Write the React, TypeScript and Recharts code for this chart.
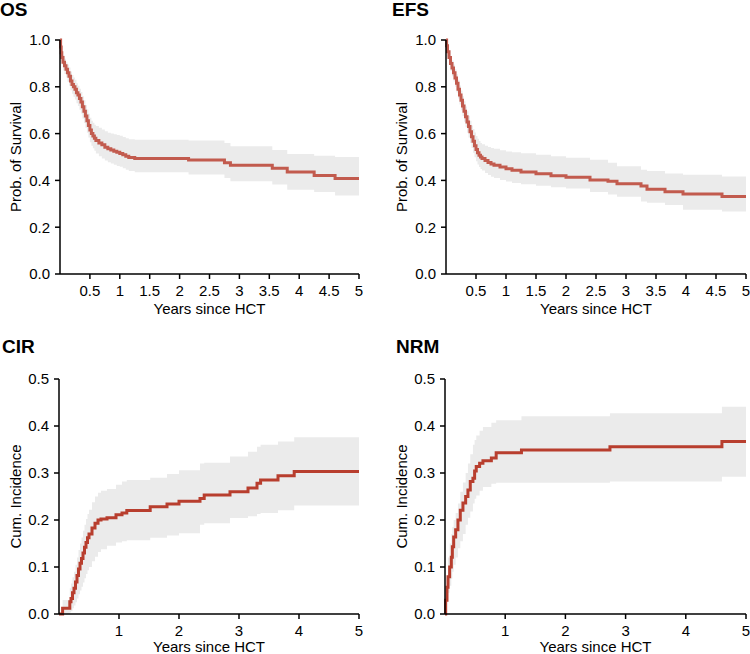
import React from 'react';
import { ComposedChart, Area, Line, XAxis, YAxis } from 'recharts';

// ---- OS ----
const osTime = [0, 0.01, 0.02, 0.03, 0.05, 0.075, 0.1, 0.125, 0.15, 0.175, 0.2, 0.225, 0.25, 0.275, 0.3, 0.325, 0.35, 0.375, 0.4, 0.425, 0.45, 0.475, 0.5, 0.525, 0.55, 0.575, 0.6, 0.65, 0.7, 0.75, 0.8, 0.85, 0.9, 0.95, 1.0, 1.05, 1.1, 1.15, 1.25, 2.15, 2.75, 2.85, 3.55, 3.8, 4.25, 4.6, 5];
const osEst = [1, 0.97, 0.945, 0.925, 0.905, 0.89, 0.875, 0.86, 0.845, 0.825, 0.81, 0.8, 0.79, 0.775, 0.765, 0.75, 0.735, 0.715, 0.695, 0.675, 0.655, 0.635, 0.615, 0.6, 0.59, 0.58, 0.57, 0.56, 0.552, 0.542, 0.535, 0.53, 0.525, 0.52, 0.515, 0.51, 0.503, 0.498, 0.494, 0.487, 0.475, 0.465, 0.452, 0.436, 0.421, 0.408, 0.408];
const osLower = [1, 0.945, 0.915, 0.895, 0.87, 0.855, 0.84, 0.822, 0.805, 0.785, 0.77, 0.758, 0.746, 0.73, 0.718, 0.702, 0.686, 0.665, 0.645, 0.625, 0.604, 0.583, 0.563, 0.548, 0.537, 0.527, 0.515, 0.503, 0.494, 0.485, 0.478, 0.472, 0.467, 0.462, 0.458, 0.452, 0.446, 0.44, 0.435, 0.425, 0.41, 0.396, 0.382, 0.36, 0.35, 0.335, 0.335];
const osUpper = [1, 0.99, 0.97, 0.955, 0.935, 0.92, 0.905, 0.895, 0.882, 0.865, 0.85, 0.84, 0.83, 0.815, 0.805, 0.792, 0.778, 0.76, 0.742, 0.722, 0.703, 0.685, 0.668, 0.655, 0.646, 0.638, 0.632, 0.625, 0.617, 0.61, 0.604, 0.6, 0.597, 0.594, 0.591, 0.586, 0.58, 0.576, 0.574, 0.57, 0.56, 0.546, 0.53, 0.513, 0.505, 0.5, 0.5];

// ---- EFS ----
const efsTime = [0, 0.01, 0.025, 0.05, 0.075, 0.1, 0.125, 0.15, 0.175, 0.2, 0.225, 0.25, 0.275, 0.3, 0.325, 0.35, 0.375, 0.4, 0.425, 0.45, 0.475, 0.5, 0.525, 0.55, 0.575, 0.6, 0.65, 0.7, 0.75, 0.8, 0.9, 1.0, 1.1, 1.25, 1.5, 1.75, 2.0, 2.4, 2.7, 2.85, 3.25, 3.35, 3.65, 3.95, 4.6, 5];
const efsEst = [1, 0.975, 0.95, 0.925, 0.9, 0.88, 0.86, 0.838, 0.815, 0.79, 0.765, 0.742, 0.718, 0.695, 0.672, 0.65, 0.63, 0.608, 0.587, 0.567, 0.548, 0.532, 0.518, 0.508, 0.5, 0.494, 0.485, 0.477, 0.47, 0.465, 0.457, 0.45, 0.443, 0.436, 0.428, 0.42, 0.413, 0.402, 0.396, 0.386, 0.376, 0.362, 0.351, 0.342, 0.331, 0.331];
const efsLower = [1, 0.955, 0.925, 0.895, 0.868, 0.845, 0.823, 0.8, 0.776, 0.75, 0.724, 0.7, 0.675, 0.651, 0.627, 0.604, 0.583, 0.56, 0.538, 0.518, 0.499, 0.482, 0.468, 0.457, 0.449, 0.442, 0.432, 0.423, 0.416, 0.41, 0.402, 0.395, 0.389, 0.384, 0.377, 0.371, 0.365, 0.35, 0.34, 0.33, 0.31, 0.305, 0.295, 0.275, 0.267, 0.267];
const efsUpper = [1, 0.99, 0.975, 0.955, 0.932, 0.912, 0.895, 0.875, 0.854, 0.83, 0.806, 0.784, 0.76, 0.738, 0.716, 0.695, 0.676, 0.655, 0.635, 0.62, 0.605, 0.59, 0.578, 0.568, 0.56, 0.555, 0.548, 0.543, 0.538, 0.535, 0.529, 0.524, 0.52, 0.516, 0.51, 0.503, 0.497, 0.488, 0.475, 0.46, 0.445, 0.44, 0.43, 0.424, 0.417, 0.417];

// ---- CIR ----
const cirTime = [0, 0.06, 0.18, 0.2, 0.225, 0.25, 0.275, 0.3, 0.325, 0.35, 0.375, 0.4, 0.425, 0.45, 0.475, 0.5, 0.55, 0.6, 0.65, 0.7, 0.8, 0.95, 1.05, 1.13, 1.52, 1.8, 2.0, 2.35, 2.42, 2.85, 3.15, 3.3, 3.36, 3.65, 3.92, 5];
const cirEst = [0, 0.012, 0.026, 0.033, 0.045, 0.055, 0.068, 0.082, 0.096, 0.108, 0.118, 0.13, 0.142, 0.152, 0.162, 0.17, 0.183, 0.193, 0.2, 0.202, 0.205, 0.211, 0.215, 0.22, 0.228, 0.234, 0.24, 0.246, 0.253, 0.26, 0.268, 0.278, 0.285, 0.294, 0.303, 0.303];
const cirLower = [0, 0, 0.003, 0.006, 0.012, 0.018, 0.025, 0.033, 0.042, 0.05, 0.058, 0.067, 0.076, 0.085, 0.093, 0.1, 0.112, 0.122, 0.132, 0.138, 0.145, 0.152, 0.155, 0.157, 0.162, 0.167, 0.172, 0.19, 0.193, 0.204, 0.208, 0.213, 0.215, 0.221, 0.231, 0.232];
const cirUpper = [0, 0.03, 0.055, 0.065, 0.078, 0.09, 0.105, 0.12, 0.136, 0.15, 0.163, 0.177, 0.19, 0.202, 0.213, 0.222, 0.238, 0.25, 0.258, 0.262, 0.266, 0.275, 0.282, 0.285, 0.29, 0.298, 0.306, 0.32, 0.322, 0.335, 0.345, 0.356, 0.36, 0.367, 0.376, 0.376];

// ---- NRM ----
const nrmTime = [0, 0.011, 0.033, 0.05, 0.077, 0.105, 0.122, 0.144, 0.177, 0.215, 0.254, 0.298, 0.343, 0.381, 0.42, 0.464, 0.492, 0.519, 0.575, 0.63, 0.77, 0.85, 1.27, 2.74, 4.6, 5];
const nrmEst = [0, 0.029, 0.057, 0.079, 0.1, 0.121, 0.143, 0.164, 0.179, 0.2, 0.221, 0.236, 0.25, 0.264, 0.282, 0.289, 0.304, 0.314, 0.321, 0.326, 0.332, 0.343, 0.349, 0.356, 0.367, 0.367];
const nrmLower = [0, 0.01, 0.03, 0.045, 0.06, 0.075, 0.09, 0.105, 0.12, 0.14, 0.155, 0.17, 0.19, 0.205, 0.218, 0.235, 0.245, 0.252, 0.262, 0.27, 0.277, 0.279, 0.279, 0.282, 0.292, 0.292];
const nrmUpper = [0, 0.04, 0.08, 0.12, 0.15, 0.17, 0.185, 0.2, 0.215, 0.235, 0.26, 0.28, 0.3, 0.32, 0.34, 0.36, 0.37, 0.38, 0.39, 0.398, 0.407, 0.412, 0.421, 0.427, 0.441, 0.441];

// ---- ticks & labels ----
const survivalTicks = [0, 0.2, 0.4, 0.6, 0.8, 1.0];
const incidenceTicks = [0, 0.1, 0.2, 0.3, 0.4, 0.5];
const halfYearTicks = [0.5, 1, 1.5, 2, 2.5, 3, 3.5, 4, 4.5, 5];
const yearTicks = [1, 2, 3, 4, 5];
const xAxisTitle = 'Years since HCT';
const survivalTitle = 'Prob. of Survival';
const incidenceTitle = 'Cum. Incidence';

function build(t: number[], est: number[], lo: number[], hi: number[]) {
  return t.map((x, i) => ({ t: x, est: est[i], range: [lo[i], hi[i]] }));
}

type PanelProps = {
  left: number; top: number; width: number; height: number;
  data: any[]; yTicks: number[]; yMax: number; xTicks: number[];
  yTitle: string; yWidth: number; mTop: number; mRight: number; xHeight: number;
  color: string; yLabelOffset: number; xLabelOffset: number;
};

function Panel(p: PanelProps) {
  const tickStyle = { fill: '#000', fontSize: 15 };
  return (
    <div style={{ position: 'absolute', left: p.left, top: p.top }}>
      <ComposedChart width={p.width} height={p.height} data={p.data} style={{ overflow: 'visible' }}
        margin={{ top: p.mTop, right: p.mRight, bottom: 0, left: 0 }}>
        <XAxis dataKey="t" type="number" domain={[0, 5]} ticks={p.xTicks} interval={0}
          height={p.xHeight} tick={tickStyle} tickSize={5} tickMargin={6}
          axisLine={{ stroke: '#000', strokeWidth: 1.5 }} tickLine={{ stroke: '#000', strokeWidth: 1.5 }}
          label={{ value: xAxisTitle, position: 'insideBottom', offset: p.xLabelOffset, fill: '#000', fontSize: 15 }} />
        <YAxis type="number" domain={[0, p.yMax]} ticks={p.yTicks} interval={0} width={p.yWidth}
          tick={tickStyle} tickSize={5} tickMargin={5} tickFormatter={(v: number) => v.toFixed(1)}
          axisLine={{ stroke: '#000', strokeWidth: 1.5 }} tickLine={{ stroke: '#000', strokeWidth: 1.5 }}
          label={{ value: p.yTitle, angle: -90, position: 'insideLeft', offset: p.yLabelOffset, fill: '#000', fontSize: 15, style: { textAnchor: 'middle' } }} />
        <Area dataKey="range" type="stepAfter" stroke="none" fill="#ebebeb" fillOpacity={1} isAnimationActive={false} dot={false} activeDot={false} />
        <Line dataKey="est" type="stepAfter" stroke={p.color} strokeWidth={3} dot={false} activeDot={false} isAnimationActive={false} />
      </ComposedChart>
    </div>
  );
}

const titleStyle: React.CSSProperties = { fontWeight: 'bold', fontSize: 19, fill: '#000' };

export default function App() {
  return (
    <div style={{ position: 'absolute', left: 0, top: 0, width: 750, height: 654, background: '#fff', fontFamily: '"Liberation Sans", Arial, sans-serif' }}>
      <Panel left={0} top={0} width={375} height={322} data={build(osTime, osEst, osLower, osUpper)}
        yTicks={survivalTicks} yMax={1} xTicks={halfYearTicks} yTitle={survivalTitle} yWidth={60}
        mTop={40} mRight={16} xHeight={48} color="#c25b4e" yLabelOffset={16} xLabelOffset={8} />
      <Panel left={375} top={0} width={375} height={322} data={build(efsTime, efsEst, efsLower, efsUpper)}
        yTicks={survivalTicks} yMax={1} xTicks={halfYearTicks} yTitle={survivalTitle} yWidth={71}
        mTop={40} mRight={4} xHeight={48} color="#c25b4e" yLabelOffset={27} xLabelOffset={8} />
      <Panel left={0} top={310} width={375} height={344} data={build(cirTime, cirEst, cirLower, cirUpper)}
        yTicks={incidenceTicks} yMax={0.5} xTicks={yearTicks} yTitle={incidenceTitle} yWidth={59}
        mTop={69} mRight={16} xHeight={40} color="#b83e2e" yLabelOffset={16} xLabelOffset={2} />
      <Panel left={375} top={310} width={375} height={344} data={build(nrmTime, nrmEst, nrmLower, nrmUpper)}
        yTicks={incidenceTicks} yMax={0.5} xTicks={yearTicks} yTitle={incidenceTitle} yWidth={70}
        mTop={69} mRight={4} xHeight={40} color="#b83e2e" yLabelOffset={27} xLabelOffset={2} />
      <svg width={750} height={654} style={{ position: 'absolute', left: 0, top: 0, pointerEvents: 'none' }}>
        <text x={0} y={16} style={titleStyle}>OS</text>
        <text x={392} y={16} style={titleStyle}>EFS</text>
        <text x={2} y={353} style={titleStyle}>CIR</text>
        <text x={396} y={353} style={titleStyle}>NRM</text>
      </svg>
    </div>
  );
}
